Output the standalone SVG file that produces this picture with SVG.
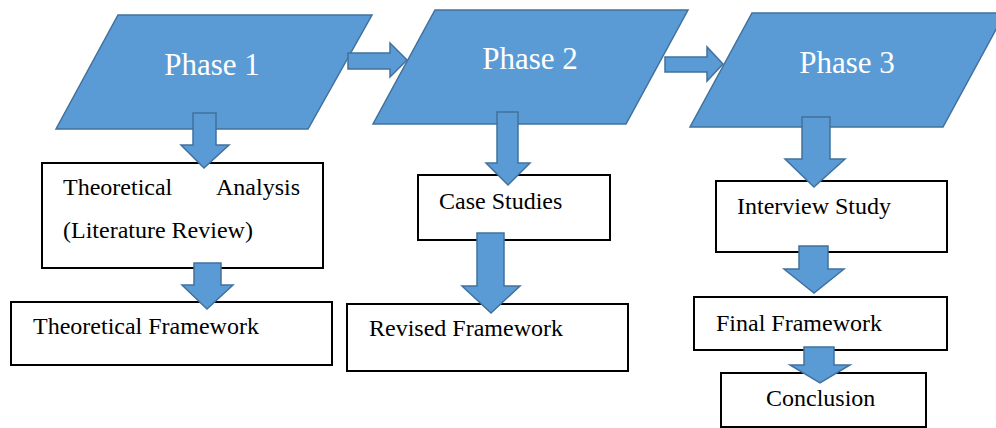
<svg xmlns="http://www.w3.org/2000/svg" width="996" height="428" viewBox="0 0 996 428">
  <style>
    .phase { fill: #5B9BD5; stroke: #41719C; stroke-width: 1.5; }
    .phase-label { font-family: "Liberation Serif", "Times New Roman", serif; font-size: 31px; fill: #FFFFFF; text-anchor: middle; }
    .box { fill: #FFFFFF; stroke: #000000; stroke-width: 2; }
    .box-label { font-family: "Liberation Serif", "Times New Roman", serif; font-size: 24px; fill: #000000; }
    .arrow { fill: #5B9BD5; stroke: #41719C; stroke-width: 1.5; stroke-linejoin: miter; }
  </style>
  <rect width="996" height="428" fill="#FFFFFF"/>

  <!-- Phase parallelograms -->
  <g id="phase1">
    <polygon class="phase" points="118,15 372,15 308,129 56,129"/>
    <text class="phase-label" x="212" y="75">Phase 1</text>
  </g>
  <g id="phase2">
    <polygon class="phase" points="435,10 688,10 626,124 373,124"/>
    <text class="phase-label" x="530" y="69">Phase 2</text>
  </g>
  <g id="phase3">
    <polygon class="phase" points="752,13 1005,13 943,127 690,127"/>
    <text class="phase-label" x="847" y="73">Phase 3</text>
  </g>

  <!-- Phase 1 column -->
  <g id="theoretical-analysis">
    <rect class="box" x="42" y="163" width="281" height="105"/>
    <text class="box-label" x="63" y="195">Theoretical</text>
    <text class="box-label" x="300" y="195" text-anchor="end">Analysis</text>
    <text class="box-label" x="63" y="238">(Literature Review)</text>
  </g>
  <g id="theoretical-framework">
    <rect class="box" x="11" y="302" width="321" height="63"/>
    <text class="box-label" x="33" y="334">Theoretical Framework</text>
  </g>

  <!-- Phase 2 column -->
  <g id="case-studies">
    <rect class="box" x="418" y="175" width="192" height="65"/>
    <text class="box-label" x="439" y="209">Case Studies</text>
  </g>
  <g id="revised-framework">
    <rect class="box" x="347" y="304" width="281" height="67"/>
    <text class="box-label" x="369" y="336">Revised Framework</text>
  </g>

  <!-- Phase 3 column -->
  <g id="interview-study">
    <rect class="box" x="716" y="181" width="231" height="71"/>
    <text class="box-label" x="737" y="214">Interview Study</text>
  </g>
  <g id="final-framework">
    <rect class="box" x="694" y="297" width="253" height="53"/>
    <text class="box-label" x="716" y="331">Final Framework</text>
  </g>
  <g id="conclusion">
    <rect class="box" x="721" y="373" width="205" height="54"/>
    <text class="box-label" x="766" y="406">Conclusion</text>
  </g>

  <!-- Block arrows -->
  <g id="connectors">
    <!-- Phase 1 -> Phase 2 -->
    <polygon class="arrow" points="348,53 390,53 390,43 407,60 390,77 390,69 348,69"/>
    <!-- Phase 2 -> Phase 3 -->
    <polygon class="arrow" points="665,57 707,57 707,47 723,64 707,81 707,72 665,72"/>
    <!-- Phase 1 -> Theoretical Analysis -->
    <polygon class="arrow" points="193,113 216,113 216,145 229,145 204,168 181,145 193,145"/>
    <!-- Theoretical Analysis -> Theoretical Framework -->
    <polygon class="arrow" points="194,263 221,263 221,285 233,285 207,309 182,285 194,285"/>
    <!-- Phase 2 -> Case Studies -->
    <polygon class="arrow" points="497,112 518,112 518,163 530,163 508,185 486,163 497,163"/>
    <!-- Case Studies -> Revised Framework -->
    <polygon class="arrow" points="477,233 504,233 504,286 520,286 491,313 462,286 477,286"/>
    <!-- Phase 3 -> Interview Study -->
    <polygon class="arrow" points="802,117 830,117 830,159 845,159 814,187 785,159 802,159"/>
    <!-- Interview Study -> Final Framework -->
    <polygon class="arrow" points="799,246 828,246 828,269 844,269 814,293 784,269 799,269"/>
    <!-- Final Framework -> Conclusion -->
    <polygon class="arrow" points="804,347 834,347 834,365 850,365 820,383 790,365 804,365"/>
  </g>
</svg>
